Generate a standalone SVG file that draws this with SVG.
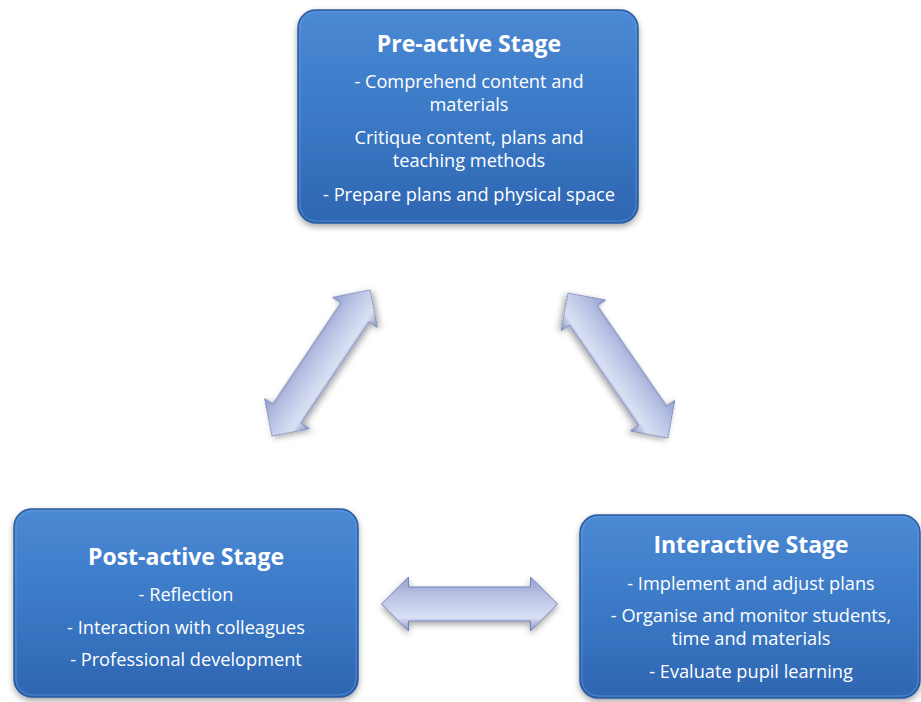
<svg xmlns="http://www.w3.org/2000/svg" width="921" height="702" viewBox="0 0 921 702">
<defs>
<linearGradient id="boxFill" x1="0" y1="0" x2="0" y2="1">
<stop offset="0" stop-color="#4b89d4"/>
<stop offset="0.5" stop-color="#3b79c6"/>
<stop offset="1" stop-color="#2e66b2"/>
</linearGradient>
<linearGradient id="arrowFill" x1="0" y1="0" x2="0" y2="1">
<stop offset="0" stop-color="#939fcf"/>
<stop offset="0.35" stop-color="#b9c3e4"/>
<stop offset="0.75" stop-color="#d9e0f3"/>
<stop offset="1" stop-color="#8793c2"/>
</linearGradient>
<filter id="shadow" x="-10%" y="-10%" width="120%" height="130%">
<feDropShadow dx="0" dy="3" stdDeviation="3" flood-color="#000" flood-opacity="0.35"/>
</filter>
<path id="dblArrow" d="M-88,0 L-61,-27 L-61,-17 L61,-17 L61,-27 L88,0 L61,27 L61,17 L-61,17 L-61,27 Z"/>
</defs>
<style>
.box{fill:url(#boxFill);stroke:#2a5c9f;stroke-width:1.5;filter:url(#shadow)}
.hl{fill:none;stroke:#6a9fe0;stroke-width:1;opacity:0.6}
.title{font-family:"Open Sans","Liberation Sans",sans-serif;font-weight:bold;font-size:23px;fill:#fff;text-anchor:middle}
.body{font-family:"Open Sans","Liberation Sans",sans-serif;font-size:18.2px;fill:#fff;text-anchor:middle}
.arrow{fill:url(#arrowFill);stroke:#7682b3;stroke-width:1;filter:url(#shadow)}
</style>
<rect width="921" height="702" fill="#fff"/>
<g id="connectors">
<use href="#dblArrow" class="arrow" transform="translate(321,363) rotate(-56.1)"/>
<use href="#dblArrow" class="arrow" transform="translate(618,365.5) rotate(55.4)"/>
<use href="#dblArrow" class="arrow" transform="translate(469.5,604)"/>
</g>
<g id="preactive">
<rect class="box" x="298" y="10" width="340" height="213" rx="18"/>
<rect class="hl" x="300" y="12" width="336" height="209" rx="16"/>
<text class="title" x="469" y="52">Pre-active Stage</text>
<text class="body" x="469" y="88">- Comprehend content and</text>
<text class="body" x="469" y="111">materials</text>
<text class="body" x="469" y="144">Critique content, plans and</text>
<text class="body" x="469" y="167">teaching methods</text>
<text class="body" x="469" y="201">- Prepare plans and physical space</text>
</g>
<g id="postactive">
<rect class="box" x="14" y="509" width="344" height="188" rx="18"/>
<rect class="hl" x="16" y="511" width="340" height="184" rx="16"/>
<text class="title" x="186" y="565">Post-active Stage</text>
<text class="body" x="186" y="601">- Reflection</text>
<text class="body" x="186" y="634">- Interaction with colleagues</text>
<text class="body" x="186" y="666">- Professional development</text>
</g>
<g id="interactive">
<rect class="box" x="580" y="515" width="340" height="183" rx="18"/>
<rect class="hl" x="582" y="517" width="336" height="179" rx="16"/>
<text class="title" x="751" y="553">Interactive Stage</text>
<text class="body" x="751" y="590">- Implement and adjust plans</text>
<text class="body" x="751" y="622">- Organise and monitor students,</text>
<text class="body" x="751" y="645">time and materials</text>
<text class="body" x="751" y="678">- Evaluate pupil learning</text>
</g>
</svg>
